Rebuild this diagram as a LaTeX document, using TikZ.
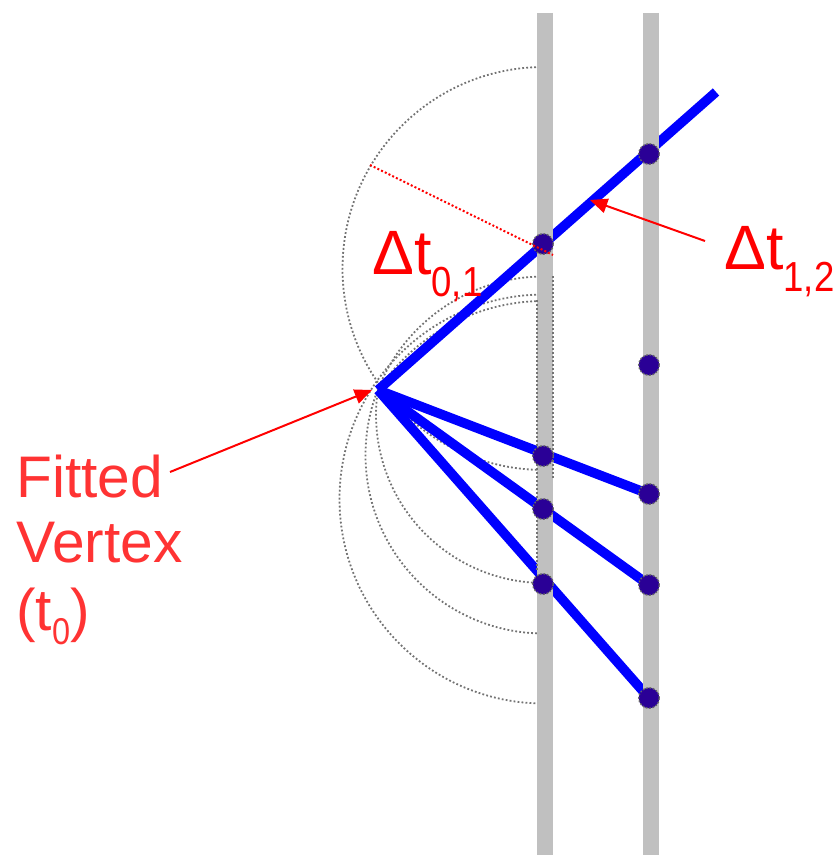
\documentclass[tikz,border=0pt]{standalone}
\usepackage{fontspec}
\usepackage{graphicx}
\setmainfont{Liberation Sans}
\usetikzlibrary{arrows.meta}
\definecolor{wiregray}{HTML}{C0C0C0}
\definecolor{hitblue}{HTML}{2A0096}
\definecolor{labelred}{HTML}{FF3333}
\newcommand{\pxfont}[1]{\fontsize{#1}{#1}\selectfont}
\tikzset{
  wire/.style={line width=11.5pt,draw=wiregray},
  track/.style={line width=7.2pt,draw=blue},
  arcline/.style={draw=black!55,line width=1.35pt,dash pattern=on 1.35pt off 1.65pt},
  redguide/.style={draw=red,line width=1.5pt,dash pattern=on 1.5pt off 1.6pt},
  pointer/.style={draw=red,line width=1.5pt,-{Triangle[length=13pt,width=11pt]}},
  hit/.style={circle,fill=hitblue,draw=black!60,line width=1pt,dash pattern=on 1.3pt off 1.3pt,minimum size=15.5pt,inner sep=0pt},
  lbl/.style={inner sep=0pt,anchor=base west,text=labelred},
  dlbl/.style={inner sep=0pt,anchor=base west,text=red},
}
\begin{document}
\begin{tikzpicture}[x=0.75pt,y=-0.75pt]
\useasboundingbox (0,0) rectangle (839,855);
% arcs
\draw[arcline] (544,268.5) ++(270:201.5) arc[start angle=270,end angle=90,radius=201.5];
\draw[arcline] (544,455) ++(270:178.5) arc[start angle=270,end angle=90,radius=178.5];
\draw[arcline] (544,415) ++(188.6:168) arc[start angle=188.6,end angle=90,radius=168];
\draw[arcline] (544,499) ++(270:204.5) arc[start angle=270,end angle=90,radius=204.5];
\draw[arcline] (544,500) ++(270:199) arc[start angle=270,end angle=213.5,radius=199];
% tracks
\coordinate (vtx) at (378,390);
\coordinate (tend) at (716,92);
\coordinate (w1a) at (545,13); \coordinate (w1b) at (545,855);
\coordinate (w2a) at (651,13); \coordinate (w2b) at (651,855);
\coordinate (h1) at (543,244); \coordinate (h2) at (649,154); \coordinate (h3) at (649,365);
\coordinate (h4) at (543,456); \coordinate (h5) at (649,494);
\coordinate (h6) at (543,509); \coordinate (h7) at (649,585);
\coordinate (h8) at (543,584); \coordinate (h9) at (649,698);
\draw[track] (vtx) -- (tend);
\draw[track] (vtx) -- (h5);
\draw[track] (vtx) -- (h7);
\draw[track] (vtx) -- (h9);
% wires
\draw[wire] (w1a) -- (w1b);
\draw[wire] (w2a) -- (w2b);
\coordinate (e1a) at (553,276); \coordinate (e1b) at (553,478);
\coordinate (e2a) at (537,300); \coordinate (e2b) at (537,572);
\draw[arcline] (e1a) -- (e1b);
\draw[arcline] (e2a) -- (e2b);
% hits
\node[hit] (n1) at (h1) {};
\node[hit] (n2) at (h2) {};
\node[hit] (n3) at (h3) {};
\node[hit] (n4) at (h4) {};
\node[hit] (n5) at (h5) {};
\node[hit] (n6) at (h6) {};
\node[hit] (n7) at (h7) {};
\node[hit] (n8) at (h8) {};
\node[hit] (n9) at (h9) {};
% red
\coordinate (ga) at (370,165); \coordinate (gb) at (553,255);
\draw[redguide] (ga) -- (gb);
\coordinate (p1a) at (705,241); \coordinate (p1b) at (590,200);
\draw[pointer] (p1a) -- (p1b);
\coordinate (p2a) at (170,472); \coordinate (p2b) at (372,390);
\draw[pointer] (p2a) -- (p2b);
% labels
\node[dlbl] (d01) at (372,275) {\pxfont{47pt}Δt\raisebox{-16pt}{\scalebox{.87}[1]{\pxfont{31.5pt}0,1}}};
\node[dlbl] (d12) at (724,270) {\pxfont{47pt}Δt\raisebox{-16pt}{\scalebox{.87}[1]{\pxfont{31.5pt}1,2}}};
\node[lbl] (f1) at (16,497) {\pxfont{44pt}Fitted};
\node[lbl] (f2) at (16,562) {\pxfont{44pt}Vertex};
\node[lbl] (f3) at (16,630) {\pxfont{44pt}(t\raisebox{-11pt}{\scalebox{.87}[1]{\pxfont{28pt}0}})};
\end{tikzpicture}
\end{document}
